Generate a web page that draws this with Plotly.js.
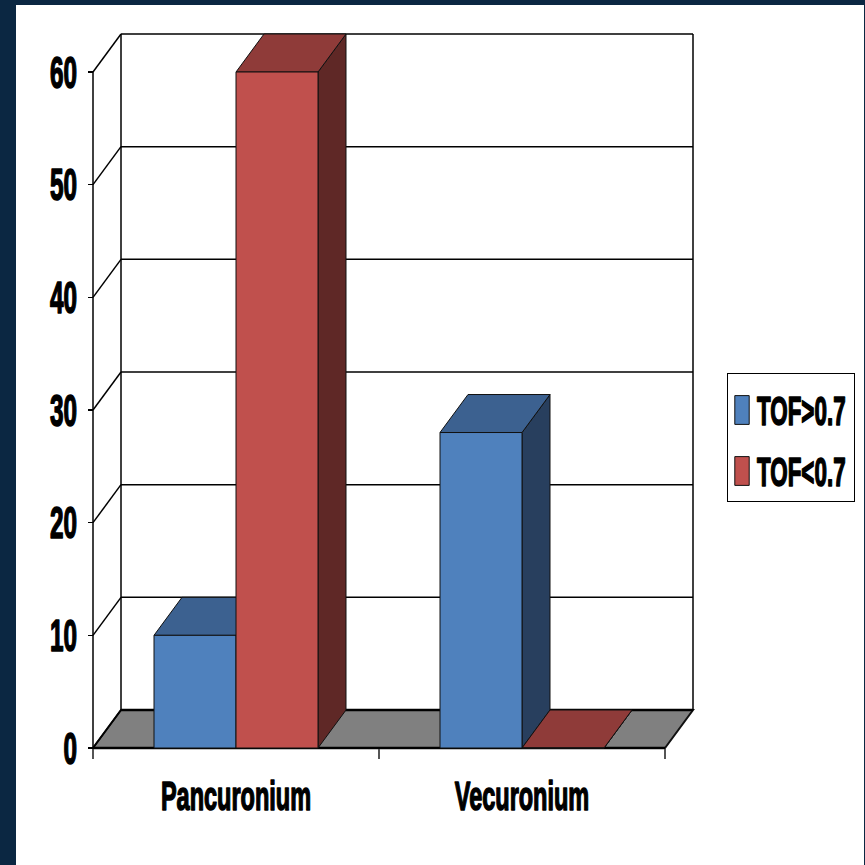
<!DOCTYPE html>
<html>
<head>
<meta charset="utf-8">
<script src="https://cdn.plot.ly/plotly-3.0.1.min.js"></script>
<style>
  html, body { margin: 0; padding: 0; background: #0b2742; }
  #chart { width: 865px; height: 865px; }
</style>
</head>
<body>
<div id="chart"></div>
<script>
// Train-of-four results by relaxant
const categories = ['Pancuronium', 'Vecuronium'];
const seriesNames = ['TOF>0.7', 'TOF<0.7'];
const tofAbove = [10, 28];
const tofBelow = [60, 0];
const yTickVals = [0, 10, 20, 30, 40, 50, 60];

// Face colours per series: front, top, side
const faceColors = [
  { front: '#4f81bd', top: '#3c6190', side: '#283f5e' },
  { front: '#c0504d', top: '#8f3b39', side: '#5f2826' }
];

// Pixel geometry of the 3-D box
const plotL = 88, plotR = 697, plotT = 30, plotB = 752;
const frontLeftPx = 93, frontBasePx = 748;
const catPx = 286;               // width of one category slot
const unitPx = 676 / 60;         // pixels per value unit
const depthXPx = 28, depthYPx = 38;
const barPx = 82;

// Converted into axis units
const dX = depthXPx / catPx;
const dY = depthYPx / unitPx;
const xMin = -0.5 - (frontLeftPx - plotL) / catPx;
const xMax = -0.5 + (plotR - frontLeftPx) / catPx;
const yMin = -(plotB - frontBasePx) / unitPx;
const yMax = (frontBasePx - plotT) / unitPx;
const barW = barPx / catPx;
const yTop = yTickVals[yTickVals.length - 1];
const xLeft = -0.5;
const xEnd = categories.length - 0.5;
const plotWpx = plotR - plotL, plotHpx = plotB - plotT;

const seriesValues = [tofAbove, tofBelow];
const seriesOffsets = [-barW, 0];

const shapes = [];
const line = (x0, y0, x1, y1, w, c) => shapes.push({
  type: 'line', xref: 'x', yref: 'y', x0, y0, x1, y1, layer: 'below',
  line: { color: c || '#000', width: w || 1.5 }
});
const poly = (pts, fill, lw) => shapes.push({
  type: 'path', xref: 'x', yref: 'y', layer: 'below',
  path: 'M' + pts.map(p => p[0] + ',' + p[1]).join(' L') + ' Z',
  fillcolor: fill, line: { color: '#111', width: lw || 1 }
});

// white slide area
shapes.push({
  type: 'rect', xref: 'paper', yref: 'paper', layer: 'below',
  x0: (16 - plotL) / plotWpx, x1: (864 - plotL) / plotWpx,
  y0: (plotB - 880) / plotHpx, y1: (plotB - 5) / plotHpx,
  fillcolor: '#ffffff', line: { width: 0 }
});

// floor
poly([[xLeft, 0], [xEnd, 0], [xEnd + dX, dY], [xLeft + dX, dY]], '#808080', 2);

// back wall edges and gridlines, side-wall diagonals
line(xLeft + dX, dY, xLeft + dX, yTop + dY, 1.5);
line(xEnd + dX, dY, xEnd + dX, yTop + dY, 1.5);
yTickVals.forEach(v => {
  if (v > 0) line(xLeft + dX, v + dY, xEnd + dX, v + dY, 1.5);
  line(xLeft, v, xLeft + dX, v + dY, 1.5);
});
line(xLeft, 0, xLeft, yTop, 1.5);
line(xLeft, 0, xEnd, 0, 2.5);
line(xLeft + dX, dY, xEnd + dX, dY, 2.5);

// top and side faces of every bar, back to front
categories.forEach((c, i) => {
  seriesValues.forEach((vals, s) => {
    const v = vals[i];
    const x0 = i + seriesOffsets[s], x1 = x0 + barW;
    poly([[x1, 0], [x1 + dX, dY], [x1 + dX, v + dY], [x1, v]], faceColors[s].side);
    poly([[x0, v], [x1, v], [x1 + dX, v + dY], [x0 + dX, v + dY]], faceColors[s].top);
  });
});

const sans = 'Liberation Sans, Arial, sans-serif';

const traces = seriesValues.map((vals, s) => ({
  type: 'bar',
  name: seriesNames[s],
  x: categories,
  y: vals,
  width: barW,
  offset: seriesOffsets[s],
  marker: { color: faceColors[s].front, line: { color: '#111', width: 1 } },
  legendgroup: 'g' + s,
  hoverinfo: 'skip'
}));

const layout = {
  width: 865, height: 865,
  margin: { l: plotL, r: 865 - plotR, t: plotT, b: 865 - plotB, pad: 0, autoexpand: false },
  paper_bgcolor: '#0b2742',
  plot_bgcolor: 'rgba(0,0,0,0)',
  showlegend: true,
  bargap: 0, bargroupgap: 0,
  xaxis: {
    type: 'category', range: [xMin, xMax], tickson: 'boundaries',
    ticks: 'outside', ticklen: 10, tickwidth: 1.5, tickcolor: '#555',
    showgrid: false, zeroline: false, showline: false,
    anchor: 'free', position: (plotB - frontBasePx) / plotHpx,
    ticklabelstandoff: 32,
    tickfont: { family: sans, size: 23.5, color: '#000', weight: 'bold' },
    fixedrange: true
  },
  yaxis: {
    range: [yMin, yMax], tickvals: yTickVals,
    ticks: 'outside', ticklen: 5, tickwidth: 1.5, tickcolor: '#000',
    showgrid: false, zeroline: false, showline: false,
    anchor: 'free', position: (frontLeftPx - plotL) / plotWpx,
    ticklabelstandoff: 6,
    tickfont: { family: sans, size: 24.3, color: '#000', weight: 'bold' },
    fixedrange: true
  },
  legend: {
    x: (727 - plotL) / plotWpx, y: (plotB - 373) / plotHpx,
    xanchor: 'left', yanchor: 'top',
    bgcolor: '#ffffff', bordercolor: '#000', borderwidth: 1,
    traceorder: 'grouped', tracegroupgap: 32,
    itemwidth: 30,
    font: { family: sans, size: 22.4, color: '#000', weight: 'bold' }
  },
  shapes: shapes
};

// Legend box and entry placement (px)
const legendBox = { x: 727, y: 373, w: 127, h: 128 };
const legendSymbolX = 742, legendTextX = 757;
const legendRowY = [410, 471];

// Tall, heavy condensed lettering: stretch each label vertically about its centre
function stretchText(selector, sy) {
  document.querySelectorAll(selector).forEach(t => {
    const b = t.getBBox();
    const cx = b.x + b.width / 2, cy = b.y + b.height / 2;
    const base = t.getAttribute('transform') || '';
    t.setAttribute('transform',
      base + ' translate(' + cx + ',' + cy + ') scale(1,' + sy + ') translate(' + (-cx) + ',' + (-cy) + ')');
    t.style.stroke = '#000';
    t.style.strokeWidth = '0.9px';
    t.style.strokeLinejoin = 'round';
  });
}

function appendShift(el, dx, dy) {
  const base = el.getAttribute('transform') || '';
  el.setAttribute('transform', base + ' translate(' + dx + ',' + dy + ')');
}

function arrangeLegend() {
  const legend = document.querySelector('.legend');
  if (!legend) return;
  const box = legend.querySelector('rect.bg');
  const scroll = legend.querySelector('.scrollbox');
  if (scroll) scroll.removeAttribute('clip-path');

  legend.querySelectorAll('.traces').forEach((g, i) => {
    const sym = g.querySelector('.legendpoints path');
    const txt = g.querySelector('.legendtext');
    if (sym) {
      const r = sym.getBoundingClientRect();
      appendShift(g, legendSymbolX - (r.left + r.right) / 2, legendRowY[i] - (r.top + r.bottom) / 2);
    }
    if (txt) {
      const r = txt.getBoundingClientRect();
      appendShift(txt, legendTextX - r.left, 0);
    }
  });

  if (box) {
    const r = box.getBoundingClientRect();
    const ox = r.left - parseFloat(box.getAttribute('x') || 0);
    const oy = r.top - parseFloat(box.getAttribute('y') || 0);
    box.setAttribute('x', legendBox.x + 0.5 - ox);
    box.setAttribute('y', legendBox.y + 0.5 - oy);
    box.setAttribute('width', legendBox.w);
    box.setAttribute('height', legendBox.h);
  }
}

Plotly.newPlot('chart', traces, layout, { displayModeBar: false, staticPlot: true }).then(() => {
  stretchText('.xtick text', 1.73);
  stretchText('.ytick text', 1.84);
  stretchText('.legendtext', 1.8);
  document.querySelectorAll('.legendpoints path').forEach(p => {
    const base = p.getAttribute('transform') || '';
    p.setAttribute('transform', base + ' scale(1.2,2.4)');
    p.style.vectorEffect = 'non-scaling-stroke';
  });
  arrangeLegend();
});
</script>
</body>
</html>
